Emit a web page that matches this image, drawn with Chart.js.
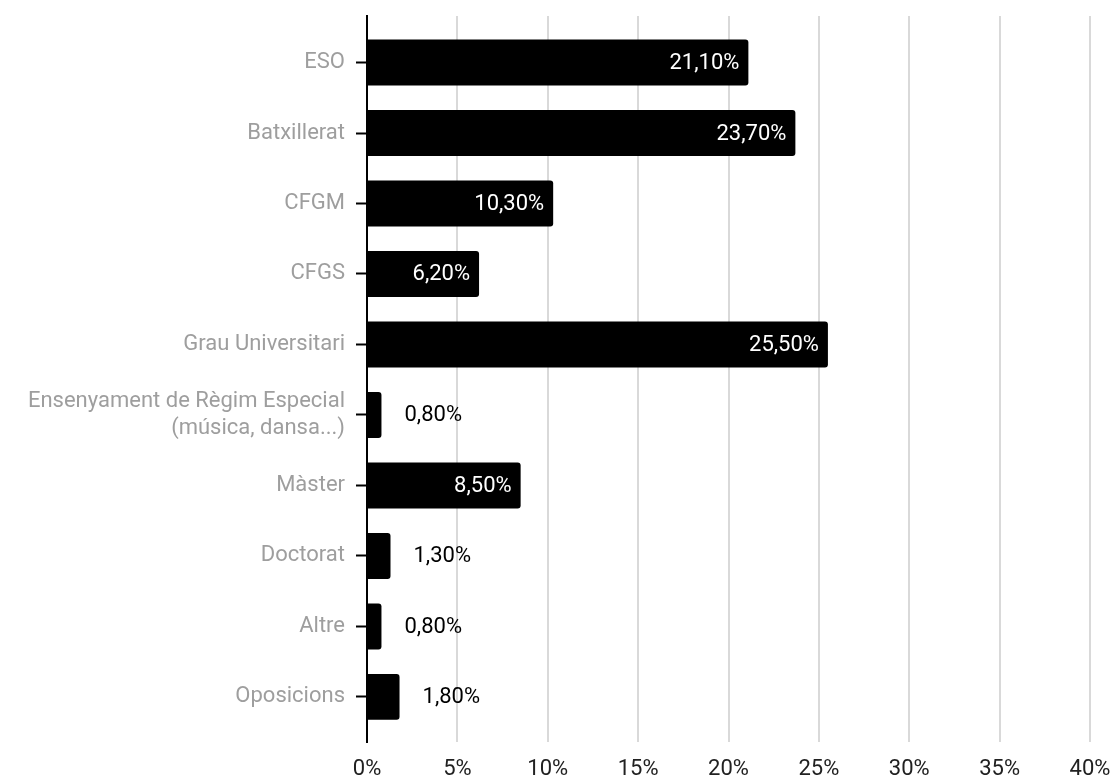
<!DOCTYPE html>
<html>
<head>
<meta charset="utf-8">
<title>Nivell d'estudis</title>
<script src="https://cdn.jsdelivr.net/npm/chart.js@4/dist/chart.umd.min.js"></script>
<style>
  html, body { margin: 0; padding: 0; background: #fff; }
  #wrap { width: 1113px; height: 776px; position: relative; }
</style>
</head>
<body>
<div id="wrap"><canvas id="chart"></canvas></div>
<script>
// Study levels and share of respondents (%)
const categories = [
  'ESO',
  'Batxillerat',
  'CFGM',
  'CFGS',
  'Grau Universitari',
  ['Ensenyament de Règim Especial', '(música, dansa...)'],
  'Màster',
  'Doctorat',
  'Altre',
  'Oposicions'
];
const values = [21.1, 23.7, 10.3, 6.2, 25.5, 0.8, 8.5, 1.3, 0.8, 1.8];
const xTicks = [0, 5, 10, 15, 20, 25, 30, 35, 40];

const FONT = 'Roboto, "Noto Sans", sans-serif';
const SIZE = 22;
const fmt = v => v.toFixed(2).replace('.', ',') + '%';

// Value labels: white inside the bar end when they fit, black beyond it otherwise
const valueLabels = {
  id: 'valueLabels',
  afterDatasetsDraw(chart) {
    const ctx = chart.ctx;
    const meta = chart.getDatasetMeta(0);
    ctx.save();
    ctx.font = SIZE + 'px ' + FONT;
    ctx.textBaseline = 'middle';
    meta.data.forEach((bar, i) => {
      const text = fmt(values[i]);
      const w = ctx.measureText(text).width;
      const barW = bar.x - bar.base;
      if (barW > w + 24) {
        ctx.fillStyle = '#ffffff';
        ctx.textAlign = 'right';
        ctx.fillText(text, bar.x - 9, bar.y + 1);
      } else {
        ctx.fillStyle = '#000000';
        ctx.textAlign = 'left';
        ctx.fillText(text, bar.x + 23, bar.y + 1);
      }
    });
    ctx.restore();
  }
};

new Chart(document.getElementById('chart'), {
  type: 'bar',
  data: {
    datasets: [{
      data: values.map((v, i) => ({ x: v, y: i })),
      backgroundColor: '#000000',
      borderRadius: 3,
      borderSkipped: 'start',
      barPercentage: 0.652,
      categoryPercentage: 1
    }]
  },
  options: {
    indexAxis: 'y',
    responsive: true,
    maintainAspectRatio: false,
    animation: false,
    layout: { padding: { top: 16, right: 23, bottom: 0, left: 0 } },
    plugins: {
      legend: { display: false },
      tooltip: { enabled: false }
    },
    scales: {
      x: {
        type: 'linear',
        position: 'bottom',
        offset: false,
        min: 0,
        max: 40,
        afterBuildTicks: s => { s.ticks = xTicks.map(v => ({ value: v })); },
        afterFit: s => { s.height = 34; s.paddingLeft = 0; s.paddingRight = 0; },
        ticks: {
          padding: 14,
          color: '#212121',
          font: { family: FONT, size: SIZE },
          callback: v => v + '%'
        },
        grid: { color: '#d9d9d9', lineWidth: 2, drawTicks: false, offset: false },
        border: { display: false }
      },
      y: {
        type: 'linear',
        position: 'left',
        offset: false,
        reverse: true,
        min: -0.66,
        max: 9.64,
        afterBuildTicks: s => { s.ticks = categories.map((_, i) => ({ value: i })); },
        afterFit: s => { s.width = 367; s.paddingTop = 0; s.paddingBottom = 0; },
        ticks: {
          padding: 11,
          color: '#9e9e9e',
          font: { family: FONT, size: SIZE, lineHeight: 1.22 },
          callback: v => categories[v]
        },
        grid: {
          offset: false,
          drawOnChartArea: false,
          drawTicks: true,
          tickLength: 11,
          tickColor: '#000000',
          tickWidth: 2
        },
        border: { display: true, color: '#000000', width: 2 }
      }
    }
  },
  plugins: [valueLabels]
});
</script>
</body>
</html>
